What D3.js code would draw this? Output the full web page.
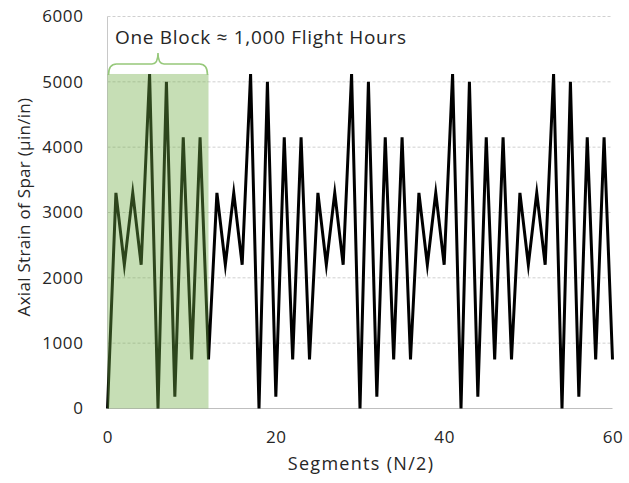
<!DOCTYPE html>
<html><head><meta charset="utf-8">
<script src="https://cdn.jsdelivr.net/npm/d3@7"></script>
<style>body{margin:0;background:#fff;} text{font-family:"Open Sans",sans-serif;fill:#262626;}</style>
</head><body><svg id="c" width="629" height="483"></svg>
<script>
const segments = [0,1,2,3,4,5,6,7,8,9,10,11,12,13,14,15,16,17,18,19,20,21,22,23,24,25,26,27,28,29,30,31,32,33,34,35,36,37,38,39,40,41,42,43,44,45,46,47,48,49,50,51,52,53,54,55,56,57,58,59,60];
const strain = [
  0,3300,2200,3300,2200,5120,0,5000,180,4150,750,4150,750,
  3300,2200,3300,2200,5120,0,5000,180,4150,750,4150,750,
  3300,2200,3300,2200,5120,0,5000,180,4150,750,4150,750,
  3300,2200,3300,2200,5120,0,5000,180,4150,750,4150,750,
  3300,2200,3300,2200,5120,0,5000,180,4150,750,4150,750
];
const xTicks = [0,20,40,60];
const yTicks = [0,1000,2000,3000,4000,5000,6000];
const blockStart = 0, blockEnd = 12, blockTop = 5120;
const annotation = "One Block \u2248 1,000 Flight Hours";
const xTitle = "Segments (N/2)";
const yTitle = "Axial Strain of Spar (\u03bcin/in)";

const svg = d3.select("#c");
const x = d3.scaleLinear().domain([0,60]).range([107.5,612.5]);
const y = d3.scaleLinear().domain([0,6000]).range([408.5,16.5]);

// gridlines
svg.append("g").selectAll("line").data(yTicks.filter(d=>d>0)).join("line")
  .attr("x1",x(0)).attr("x2",x(60)).attr("y1",d=>y(d)).attr("y2",d=>y(d))
  .attr("stroke","#d0d0d0").attr("stroke-width",1).attr("stroke-dasharray","3,2");

// axes lines
svg.append("line").attr("x1",x(0)).attr("x2",x(0)).attr("y1",y(0)).attr("y2",y(6000))
  .attr("stroke","#c8c8c8").attr("stroke-width",1);
svg.append("line").attr("x1",x(0)).attr("x2",x(60)).attr("y1",y(0)).attr("y2",y(0))
  .attr("stroke","#bfbfbf").attr("stroke-width",1.2);

// tick labels
const yAxis = d3.axisLeft(y).tickValues(yTicks).tickSize(0).tickPadding(24).tickFormat(d3.format("d"));
const gy = svg.append("g").attr("transform",`translate(${x(0)},0)`).call(yAxis);
gy.select(".domain").remove();
gy.selectAll("text").style("font-size","17px").style("letter-spacing","0.6px").attr("fill","#262626");

const xAxis = d3.axisBottom(x).tickValues(xTicks).tickSize(0).tickPadding(22).tickFormat(d3.format("d"));
const gx = svg.append("g").attr("transform",`translate(0,${y(0)})`).call(xAxis);
gx.select(".domain").remove();
gx.selectAll("text").style("font-size","17px").style("letter-spacing","0.6px").attr("fill","#262626");

// line
const line = d3.line().x((d,i)=>x(segments[i])).y(d=>y(d));
svg.append("path").datum(strain).attr("d",line).attr("fill","none")
  .attr("stroke","#000").attr("stroke-width",3).attr("stroke-linejoin","miter").attr("stroke-miterlimit",10);

// green block overlay
svg.append("rect").attr("x",x(blockStart)).attr("y",y(blockTop))
  .attr("width",x(blockEnd)-x(blockStart)).attr("height",y(0)-y(blockTop))
  .attr("fill","#70ad47").attr("fill-opacity",0.4);

// brace
const bx0 = x(blockStart)+1, bx1 = x(blockEnd)-1, bm = (bx0+bx1)/2;
const by0 = y(blockTop)+1, byH = by0-11, byT = by0-22;
svg.append("path")
  .attr("d",`M${bx0},${by0} Q${bx0},${byH} ${bx0+8},${byH} L${bm-6},${byH} Q${bm},${byH} ${bm},${byT} Q${bm},${byH} ${bm+6},${byH} L${bx1-8},${byH} Q${bx1},${byH} ${bx1},${by0}`)
  .attr("fill","none").attr("stroke","#96c87a").attr("stroke-width",1.6);

// annotation
svg.append("text").attr("x",115).attr("y",44).style("font-size","19px").style("letter-spacing","0.7px")
  .attr("fill","#262626").text(annotation);

// titles
svg.append("text").attr("x",361).attr("y",470).attr("text-anchor","middle")
  .style("font-size","18px").style("letter-spacing","1.3px").text(xTitle);
svg.append("text").attr("transform",`translate(30,207) rotate(-90)`).attr("text-anchor","middle")
  .style("font-size","17px").style("letter-spacing","0.3px").text(yTitle);
</script></body></html>
